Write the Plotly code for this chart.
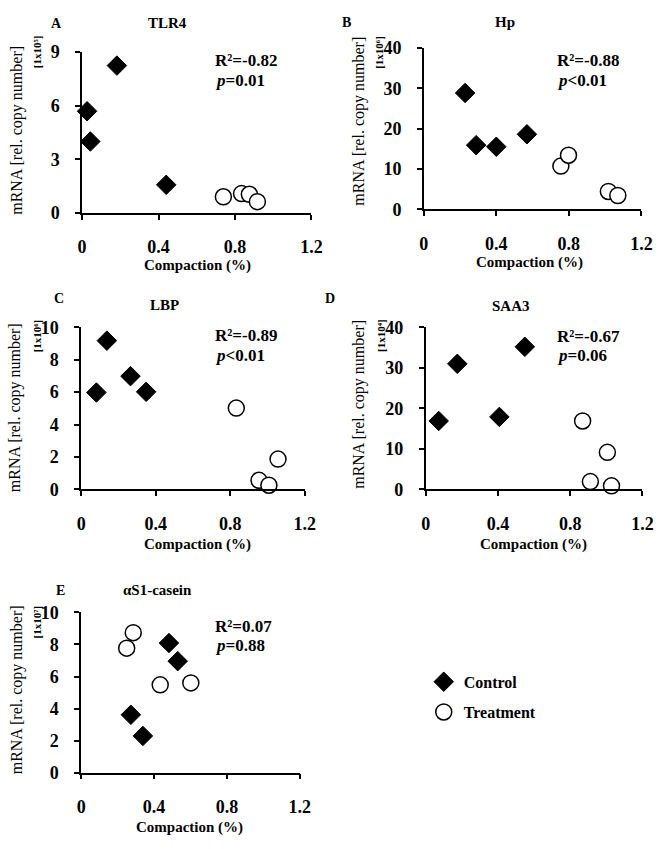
import plotly.graph_objects as go

W, H = 669, 849

# ---------------- data ----------------
panels = ["A", "B", "C", "D", "E"]
genes = ["TLR4", "Hp", "LBP", "SAA3", "αS1-casein"]
unit_labels = ["[1x10⁵]", "[1x10⁶]", "[1x10⁶]", "[1x10⁴]", "[1x10⁷]"]
r2_text = ["-0.82", "-0.88", "-0.89", "-0.67", "0.07"]
p_text = ["=0.01", "&lt;0.01", "&lt;0.01", "=0.06", "=0.88"]
y_max = [9, 40, 10, 40, 10]
y_dtick = [3, 10, 2, 10, 2]
x_max = 1.2
x_dtick = 0.4

tlr4_ctrl_x = [0.182, 0.026, 0.043, 0.44]
tlr4_ctrl_y = [8.24, 5.69, 4.0, 1.58]
tlr4_trt_x = [0.739, 0.834, 0.875, 0.917]
tlr4_trt_y = [0.91, 1.09, 1.05, 0.64]

hp_ctrl_x = [0.228, 0.289, 0.40, 0.569]
hp_ctrl_y = [28.85, 15.9, 15.5, 18.6]
hp_trt_x = [0.756, 0.798, 1.018, 1.07]
hp_trt_y = [10.7, 13.4, 4.4, 3.4]

lbp_ctrl_x = [0.082, 0.138, 0.265, 0.349]
lbp_ctrl_y = [5.98, 9.18, 6.99, 6.02]
lbp_trt_x = [0.833, 0.955, 1.008, 1.057]
lbp_trt_y = [5.02, 0.56, 0.26, 1.87]

saa3_ctrl_x = [0.072, 0.175, 0.408, 0.549]
saa3_ctrl_y = [16.9, 31.0, 17.9, 35.2]
saa3_trt_x = [0.869, 1.006, 0.912, 1.029]
saa3_trt_y = [16.9, 9.16, 1.93, 0.88]

cas_ctrl_x = [0.482, 0.53, 0.273, 0.339]
cas_ctrl_y = [8.09, 6.96, 3.61, 2.29]
cas_trt_x = [0.25, 0.286, 0.434, 0.602]
cas_trt_y = [7.77, 8.74, 5.48, 5.6]

ctrl_x = [tlr4_ctrl_x, hp_ctrl_x, lbp_ctrl_x, saa3_ctrl_x, cas_ctrl_x]
ctrl_y = [tlr4_ctrl_y, hp_ctrl_y, lbp_ctrl_y, saa3_ctrl_y, cas_ctrl_y]
trt_x = [tlr4_trt_x, hp_trt_x, lbp_trt_x, saa3_trt_x, cas_trt_x]
trt_y = [tlr4_trt_y, hp_trt_y, lbp_trt_y, saa3_trt_y, cas_trt_y]

# ---------------- layout geometry (reference pixels) ----------------
boxes = [
    (79, 314, 43, 208),
    (429, 652, 39, 204),
    (78, 307, 325, 491),
    (431, 653, 325, 491),
    (78, 302, 617, 781),
]
letter_pos = [(53, 14), (350, 13), (55, 295), (333, 295), (57, 595)]
title_pos = [(166, 13), (512, 12), (163, 302), (518, 303), (156, 594)]
xtitle_pos = [(197, 262), (537, 259), (197, 547), (541, 547), (189, 837)]
ytitle_pos = [(12, 123), (363, 114), (11, 407), (363, 404), (12, 696)]
yexp_pos = [(33, 43), (383, 43), (33, 334), (385, 333), (33, 627)]
stat_pos = [(213, 52, 72), (563, 52, 72), (213, 333, 354), (563, 334, 354), (213, 631, 651)]

FONT = "Liberation Serif, Times New Roman, serif"


def px(x):
    return x / W


def py(y):
    return 1 - y / H


fig = go.Figure()
annotations = []


def ann(text, x, y, size, bold=True, xanchor="center", angle=0):
    annotations.append(dict(
        text=text, x=px(x), y=py(y), xref="paper", yref="paper",
        showarrow=False, xanchor=xanchor, yanchor="middle", textangle=angle,
        font=dict(family=FONT, size=size, color="black",
                  weight="bold" if bold else "normal"),
    ))


tick_font = dict(family=FONT, size=18, color="black", weight="bold")

for i in range(5):
    n = "" if i == 0 else str(i + 1)
    xa, ya = "x" + n, "y" + n
    l, r, t, b = boxes[i]
    fig.add_trace(go.Scatter(
        x=ctrl_x[i], y=ctrl_y[i], xaxis=xa, yaxis=ya, mode="markers",
        name="Control", legend="legend", showlegend=(i == 0), cliponaxis=False,
        marker=dict(symbol="diamond", size=15, color="black",
                    line=dict(color="black", width=1)),
    ))
    fig.add_trace(go.Scatter(
        x=trt_x[i], y=trt_y[i], xaxis=xa, yaxis=ya, mode="markers",
        name="Treatment", legend="legend2", showlegend=(i == 0), cliponaxis=False,
        marker=dict(symbol="circle", size=16, color="white",
                    line=dict(color="black", width=1.5)),
    ))
    fig.update_layout(**{
        "xaxis" + n: dict(
            domain=[px(l), px(r)], range=[0, x_max], anchor=ya,
            tick0=0, dtick=x_dtick,
            showline=True, linecolor="black", linewidth=1.5,
            ticks="outside", ticklen=5, tickwidth=1.5, tickcolor="black",
            showgrid=False, zeroline=False, ticklabelstandoff=12,
            tickfont=tick_font,
        ),
        "yaxis" + n: dict(
            domain=[py(b), py(t)], range=[0, y_max[i]], anchor=xa,
            dtick=y_dtick[i], tick0=0,
            showline=True, linecolor="black", linewidth=1.5,
            ticks="outside", ticklen=5, tickwidth=1.5, tickcolor="black",
            showgrid=False, zeroline=False, ticklabelstandoff=12,
            tickfont=tick_font,
        ),
    })

    ann(panels[i], *letter_pos[i], 14)
    ann(genes[i], *title_pos[i], 15)
    ann("Compaction (%)", *xtitle_pos[i], 15)
    ann("mRNA [rel. copy number]", *ytitle_pos[i], 16, bold=False, angle=-90)
    ann(unit_labels[i], *yexp_pos[i], 11, angle=-90)
    sx, sy1, sy2 = stat_pos[i]
    ann("R²=" + r2_text[i], sx, sy1, 17, xanchor="left")
    ann("<i>p</i>" + p_text[i], sx, sy2, 17, xanchor="left")

legend_font = dict(family=FONT, size=16, color="black", weight="bold")
fig.update_layout(
    width=W, height=H,
    margin=dict(l=0, r=0, t=0, b=0),
    paper_bgcolor="white", plot_bgcolor="white",
    font=dict(family=FONT, color="black"),
    annotations=annotations,
    legend=dict(x=px(429), y=py(688), xanchor="left", yanchor="middle",
                font=legend_font, bgcolor="rgba(0,0,0,0)"),
    legend2=dict(x=px(429), y=py(719), xanchor="left", yanchor="middle",
                 font=legend_font, bgcolor="rgba(0,0,0,0)"),
)

fig.write_html(
    "out.html",
    config={"displayModeBar": False},
    post_script="document.body.style.margin='0px';document.body.style.padding='0px';",
)
